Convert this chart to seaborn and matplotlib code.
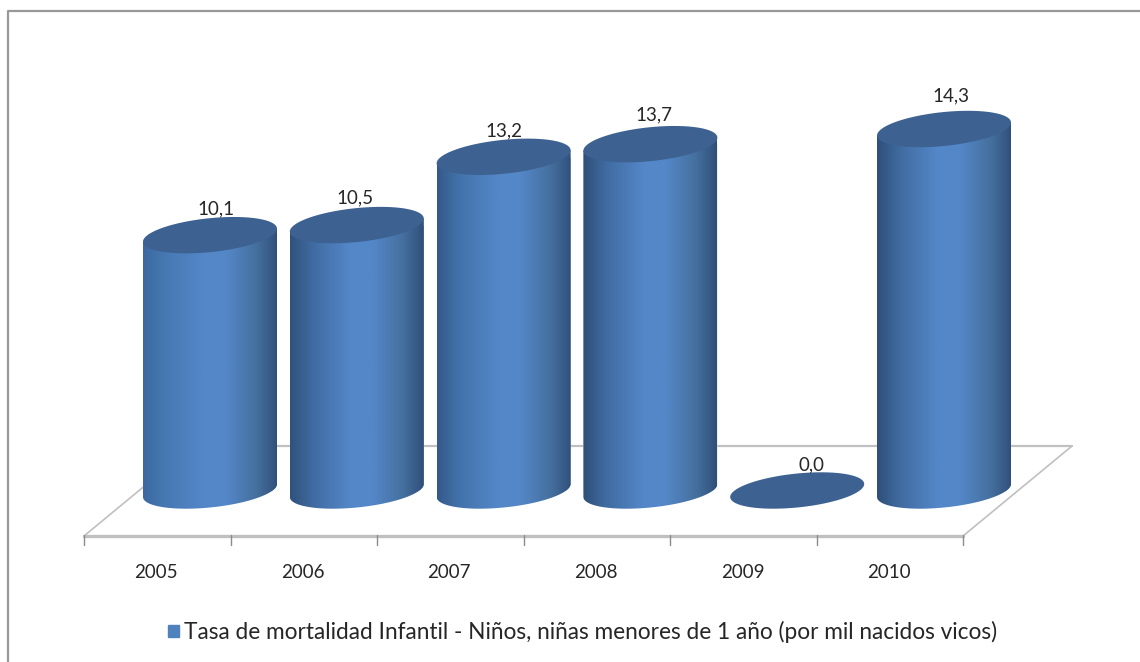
import matplotlib
matplotlib.use("Agg")
import matplotlib.pyplot as plt
import numpy as np
import pandas as pd
import seaborn as sns
from matplotlib.colors import LinearSegmentedColormap
from matplotlib.patches import Patch, PathPatch
from matplotlib.path import Path

YEARS = ["2005", "2006", "2007", "2008", "2009", "2010"]
TASA = [10.1, 10.5, 13.2, 13.7, 0.0, 14.3]
LABELS = ["10,1", "10,5", "13,2", "13,7", "0,0", "14,3"]
LEGEND_TEXT = "Tasa de mortalidad Infantil - Niños, niñas menores de 1 año (por mil nacidos vicos)"

W, H = 1140, 662
PX_PER_CAT = 146.8   # pixels between two bars
PX_PER_UNIT = 25.28  # pixels per unit of the rate
X0_PX, Y0_PX = 210, 490.5  # where 2005 sits on the floor
BAR_W = 134 / PX_PER_CAT
A_PX, B_PX, TILT_PX = 67, 17, 6.5

BLUE = "#4f81bd"
TOP = "#3d6291"
FLOOR = "#c0c0c0"
TEXT = "#262626"


def cylinder_cmap(left, mid):
    # the shading differs a little from bar to bar in the picture
    return LinearSegmentedColormap.from_list(
        "cyl", [(0, left), (0.16, mid), (0.45, "#5487c8"), (0.62, "#5487c8"),
                (0.84, "#45709f"), (0.95, "#375a86"), (1, "#2f4f78")])


shades = [("#3c699f", "#4678b2"), ("#30527c", "#3f6a9f"), ("#34598a", "#4272aa"),
          ("#2f4f78", "#3f6a9f"), ("#2f4f78", "#3f6a9f"), ("#2f4f78", "#3f6a9f")]


def cx(px):
    return (px - X0_PX) / PX_PER_CAT


def cy(py):
    return (Y0_PX - py) / PX_PER_UNIT


def ellipse(xc, yc, t):
    # tilted ellipse, worked out in pixels because the axes are not square
    x = xc + A_PX * np.cos(t) / PX_PER_CAT
    y = yc + (TILT_PX * np.cos(t) + B_PX * np.sin(t)) / PX_PER_UNIT
    return x, y


sns.set_style("white")
plt.rcParams["font.family"] = ["Lato", "DejaVu Sans"]
df = pd.DataFrame({"Year": YEARS, "Tasa": TASA})

fig = plt.figure(figsize=(W / 100, H / 100), dpi=100)
ax = fig.add_axes([0, 0, 1, 1])
sns.barplot(data=df, x="Year", y="Tasa", color=BLUE, saturation=1, width=BAR_W, ax=ax, zorder=3)
xlim = (cx(0), cx(W))
ylim = (cy(H), cy(0))
ax.set_axis_off()

# outer frame, only top and left show in the crop
ax.plot([cx(8.5), cx(8.5), cx(W)], [cy(H), cy(11), cy(11)], color="#999999", lw=1.6, zorder=1)

# floor
back_l, back_r, front_l, front_r = (193, 446), (1072, 446), (84, 536), (963, 536)
ax.plot([cx(back_l[0]), cx(back_r[0])], [cy(446)] * 2, color=FLOOR, lw=1.6, zorder=1)
ax.plot([cx(front_l[0]), cx(back_l[0])], [cy(front_l[1]), cy(back_l[1])], color=FLOOR, lw=1.2, zorder=1)
ax.plot([cx(front_r[0]), cx(back_r[0])], [cy(front_r[1]), cy(back_r[1])], color=FLOOR, lw=1.2, zorder=1)
ax.plot([cx(84), cx(963)], [cy(536)] * 2, color=FLOOR, lw=2.4, zorder=2)
for i in range(len(YEARS) + 1):
    xt = cx(84 + i * 146.5)
    ax.plot([xt, xt], [cy(535), cy(545)], color="#8c8c8c", lw=1, zorder=2)
for i, year in enumerate(YEARS):
    ax.text(cx(156 + i * 146.6), cy(572), year, ha="center", va="center", fontsize=13.5, color=TEXT)

# cylinders, built on the bars seaborn drew
label_off = [(6, 26), (-2, 27), (0, 26), (4, 29), (14, 26), (7, 33)]
ts = np.linspace(np.pi, 2 * np.pi, 60)
for i, bar in enumerate(ax.patches[:len(YEARS)]):
    xc = bar.get_x() + bar.get_width() / 2
    v = TASA[i]
    x_low, y_low = ellipse(xc, 0, ts)
    x_top, y_top = ellipse(xc, v, np.array([0.0, np.pi]))
    verts = list(zip(x_low, y_low)) + [(x_top[0], y_top[0]), (x_top[1], y_top[1]), (x_low[0], y_low[0])]
    body = Path(verts, closed=False)
    bar.set_clip_path(body, ax.transData)
    if v > 0:
        im = ax.imshow(np.linspace(0, 1, 256)[None, :], cmap=cylinder_cmap(*shades[i]), aspect="auto",
                       zorder=4, extent=[xc - BAR_W / 2, xc + BAR_W / 2, -1, v + 1])
        im.set_clip_path(PathPatch(body, transform=ax.transData))
    xe, ye = ellipse(xc, v, np.linspace(0, 2 * np.pi, 120))
    ax.fill(xe, ye, color=TOP, lw=0, zorder=5)
    ax.text(xc + label_off[i][0] / PX_PER_CAT, v + label_off[i][1] / PX_PER_UNIT, LABELS[i],
            ha="center", va="center", fontsize=13.5, color=TEXT, zorder=6)

ax.set_xlim(xlim)
ax.set_ylim(ylim)

# legend
ax.legend(handles=[Patch(color=BLUE, label=LEGEND_TEXT)], loc="center", frameon=False,
          bbox_to_anchor=(582.5 / W, 1 - 632 / H), fontsize=16.3, handlelength=0.5, handleheight=0.5,
          handletextpad=0.22, labelcolor=TEXT)

fig.savefig("out.png", dpi=100)
